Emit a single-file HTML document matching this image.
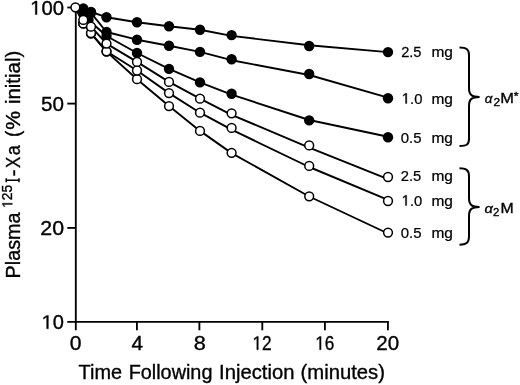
<!DOCTYPE html>
<html><head><meta charset="utf-8"><style>
html,body{margin:0;padding:0;background:#fff;}
svg{display:block;will-change:transform;}
text{font-family:"Liberation Sans",sans-serif;fill:#000;stroke:#000;stroke-width:0.35px;}
.g1{stroke:#000;stroke-width:0.35px;}
.lg{stroke-width:0.25px;}
</style></head><body>
<svg width="520" height="385" viewBox="0 0 520 385">
<g stroke="#000" stroke-width="1.85" fill="none">
<path d="M75.8,6.7 V330.3"/>
<path d="M67.3,321.85 H388.9"/>
<path d="M67.3,7.5 H75.8"/>
<path d="M67.3,103.6 H75.8"/>
<path d="M67.3,227.9 H75.8"/>
<path d="M136.9,321.85 V330.3"/>
<path d="M199.4,321.85 V330.3"/>
<path d="M262.3,321.85 V330.3"/>
<path d="M324.9,321.85 V330.3"/>
<path d="M387.9,321.85 V330.3"/>
</g>
<g stroke="#000" stroke-width="1.9" fill="none" stroke-linejoin="round">
<polyline points="75.4,7.3 83.3,8.5 91.0,12.0 106.5,17.2 137.0,22.2 169.0,26.2 200.0,29.7 231.6,35.9 309.2,45.2 388.0,52.1"/>
<polyline points="75.4,7.3 83.3,9.8 91.0,12.8 106.5,32.0 137.0,39.7 169.0,45.8 200.0,51.9 231.6,60.2 309.2,75.0 388.0,97.6"/>
<polyline points="75.4,7.3 83.3,11.5 88.5,20.0 106.5,36.0 137.0,53.0 169.0,68.9 200.0,82.4 231.6,94.6 309.2,120.0 388.0,136.7"/>
<polyline points="75.4,7.3 83.3,19.9 91.0,26.7 106.5,43.6 137.0,61.9 169.0,81.9 200.0,98.7 231.6,114.8 309.2,147.7 388.0,179.1"/>
<polyline points="75.4,7.3 83.3,23.4 91.0,33.1 106.5,51.3 137.0,70.5 169.0,93.1 200.0,112.7 231.6,129.7 309.2,167.0 388.0,199.9"/>
<polyline points="75.4,7.3 83.3,23.7 91.0,33.5 106.5,51.6 137.0,79.2 169.0,106.1 200.0,130.9 231.6,153.1 309.2,196.5 388.0,233.5"/>
</g>
<g fill="#000">
<circle cx="83.3" cy="11.5" r="5.2"/>
<circle cx="88.5" cy="20.0" r="5.2"/>
<circle cx="106.5" cy="36.0" r="5.2"/>
<circle cx="137.0" cy="53.0" r="5.2"/>
<circle cx="169.0" cy="68.9" r="5.2"/>
<circle cx="200.0" cy="82.4" r="5.2"/>
<circle cx="231.6" cy="93.8" r="5.2"/>
<circle cx="309.2" cy="120.4" r="5.2"/>
<circle cx="388.0" cy="137.3" r="5.2"/>
<circle cx="83.3" cy="9.8" r="5.2"/>
<circle cx="91.0" cy="12.8" r="5.2"/>
<circle cx="106.5" cy="32.0" r="5.2"/>
<circle cx="137.0" cy="39.7" r="5.2"/>
<circle cx="169.0" cy="45.8" r="5.2"/>
<circle cx="200.0" cy="51.9" r="5.2"/>
<circle cx="231.6" cy="59.2" r="5.2"/>
<circle cx="309.2" cy="74.0" r="5.2"/>
<circle cx="388.0" cy="98.2" r="5.2"/>
<circle cx="83.3" cy="8.5" r="5.2"/>
<circle cx="91.0" cy="12.0" r="5.2"/>
<circle cx="106.5" cy="17.2" r="5.2"/>
<circle cx="137.0" cy="22.2" r="5.2"/>
<circle cx="169.0" cy="26.2" r="5.2"/>
<circle cx="200.0" cy="29.7" r="5.2"/>
<circle cx="231.6" cy="35.1" r="5.2"/>
<circle cx="309.2" cy="46.0" r="5.2"/>
<circle cx="388.0" cy="52.1" r="5.2"/>
</g>
<g fill="#fff" stroke="#000" stroke-width="1.5">
<circle cx="83.3" cy="23.7" r="4.4"/>
<circle cx="91.0" cy="33.5" r="4.4"/>
<circle cx="106.5" cy="51.6" r="4.4"/>
<circle cx="137.0" cy="79.2" r="4.4"/>
<circle cx="169.0" cy="106.1" r="4.4"/>
<circle cx="200.0" cy="130.9" r="4.4"/>
<circle cx="231.6" cy="152.8" r="4.4"/>
<circle cx="309.2" cy="196.3" r="4.4"/>
<circle cx="388.0" cy="232.6" r="4.4"/>
<circle cx="83.3" cy="23.4" r="4.4"/>
<circle cx="91.0" cy="33.1" r="4.4"/>
<circle cx="106.5" cy="51.3" r="4.4"/>
<circle cx="137.0" cy="70.5" r="4.4"/>
<circle cx="169.0" cy="93.1" r="4.4"/>
<circle cx="200.0" cy="112.7" r="4.4"/>
<circle cx="231.6" cy="127.9" r="4.4"/>
<circle cx="309.2" cy="165.9" r="4.4"/>
<circle cx="388.0" cy="201.0" r="4.4"/>
<circle cx="83.3" cy="19.9" r="4.4"/>
<circle cx="91.0" cy="26.7" r="4.4"/>
<circle cx="106.5" cy="43.6" r="4.4"/>
<circle cx="137.0" cy="61.9" r="4.4"/>
<circle cx="169.0" cy="81.9" r="4.4"/>
<circle cx="200.0" cy="98.7" r="4.4"/>
<circle cx="231.6" cy="113.3" r="4.4"/>
<circle cx="309.2" cy="145.4" r="4.4"/>
<circle cx="388.0" cy="177.0" r="4.4"/>
<circle cx="75.4" cy="7.3" r="4.4"/>
</g>
<text transform="translate(30.15,14.50) scale(1.0404,1)" font-size="19.5"> 00</text>
<path transform="translate(30.15,14.50) scale(0.00991,-0.00952)" d="M515,0 L515,1237 L197,1010 L197,1180 L530,1409 L696,1409 L696,0 Z" class="g1" vector-effect="non-scaling-stroke"/>
<text transform="translate(40.92,110.50) scale(1.0599,1)" font-size="19.5">50</text>
<text transform="translate(40.28,234.80) scale(1.0953,1)" font-size="19.5">20</text>
<text transform="translate(41.57,328.80) scale(1.0288,1)" font-size="19.5"> 0</text>
<path transform="translate(41.57,328.80) scale(0.00980,-0.00952)" d="M515,0 L515,1237 L197,1010 L197,1180 L530,1409 L696,1409 L696,0 Z" class="g1" vector-effect="non-scaling-stroke"/>
<text transform="translate(69.68,349.80) scale(1.0836,1)" font-size="19.5">0</text>
<text transform="translate(131.42,349.60) scale(1.0684,1)" font-size="19.5">4</text>
<text transform="translate(193.87,349.80) scale(1.1129,1)" font-size="19.5">8</text>
<text transform="translate(252.44,349.80) scale(0.8866,1)" font-size="19.5"> 2</text>
<path transform="translate(252.44,349.80) scale(0.00844,-0.00952)" d="M515,0 L515,1237 L197,1010 L197,1180 L530,1409 L696,1409 L696,0 Z" class="g1" vector-effect="non-scaling-stroke"/>
<text transform="translate(315.25,349.80) scale(0.8811,1)" font-size="19.5"> 6</text>
<path transform="translate(315.25,349.80) scale(0.00839,-0.00952)" d="M515,0 L515,1237 L197,1010 L197,1180 L530,1409 L696,1409 L696,0 Z" class="g1" vector-effect="non-scaling-stroke"/>
<text transform="translate(376.27,350.00) scale(1.0527,1)" font-size="19.5">20</text>
<text transform="translate(78.56,379.40) scale(0.9762,1)" font-size="20.4">Time</text>
<text transform="translate(128.67,379.40) scale(0.9725,1)" font-size="20.4">Following</text>
<text transform="translate(219.04,379.40) scale(0.9922,1)" font-size="20.4">Injection</text>
<text transform="translate(300.54,379.40) scale(0.9940,1)" font-size="20.4">(minutes)</text>
<text transform="translate(401.17,57.30) scale(0.9890,1)" font-size="14.8" class="lg">2.5</text>
<text transform="translate(431.48,57.30) scale(1.0465,1)" font-size="14.8" class="lg">mg</text>
<text transform="translate(401.78,103.50) scale(1.0014,1)" font-size="14.8" class="lg"> .0</text>
<path transform="translate(401.78,103.50) scale(0.00724,-0.00723)" d="M515,0 L515,1237 L197,1010 L197,1180 L530,1409 L696,1409 L696,0 Z" class="g1" vector-effect="non-scaling-stroke"/>
<text transform="translate(431.48,103.50) scale(1.0465,1)" font-size="14.8" class="lg">mg</text>
<text transform="translate(400.72,142.60) scale(1.0117,1)" font-size="14.8" class="lg">0.5</text>
<text transform="translate(431.48,142.60) scale(1.0465,1)" font-size="14.8" class="lg">mg</text>
<text transform="translate(400.76,181.30) scale(0.9995,1)" font-size="14.8" class="lg">2.5</text>
<text transform="translate(431.48,181.30) scale(1.0465,1)" font-size="14.8" class="lg">mg</text>
<text transform="translate(401.68,205.50) scale(0.9960,1)" font-size="14.8" class="lg"> .0</text>
<path transform="translate(401.68,205.50) scale(0.00720,-0.00723)" d="M515,0 L515,1237 L197,1010 L197,1180 L530,1409 L696,1409 L696,0 Z" class="g1" vector-effect="non-scaling-stroke"/>
<text transform="translate(431.48,205.50) scale(1.0465,1)" font-size="14.8" class="lg">mg</text>
<text transform="translate(400.72,237.60) scale(1.0117,1)" font-size="14.8" class="lg">0.5</text>
<text transform="translate(431.48,237.60) scale(1.0465,1)" font-size="14.8" class="lg">mg</text>
<text transform="translate(484.84,102.50) scale(1.0648,1)" font-size="12.6" font-style="italic">α</text>
<text transform="translate(493.51,105.90) scale(1.1278,1)" font-size="10.5">2</text>
<text transform="translate(500.35,102.60) scale(1.0962,1)" font-size="15.0">M</text>
<text transform="translate(513.80,99.60) scale(1.1412,1)" font-size="10.8">*</text>
<text transform="translate(484.40,212.50) scale(1.1642,1)" font-size="12.6" font-style="italic">α</text>
<text transform="translate(493.03,216.00) scale(1.0860,1)" font-size="10.5">2</text>
<text transform="translate(500.40,212.60) scale(1.0563,1)" font-size="15.0">M</text>
<g transform="translate(19.6,276.8) rotate(-90)">
<text transform="translate(-1.62,0.00) scale(0.9740,1)" font-size="20.3">Plasma</text>
<text transform="translate(68.87,-7.30) scale(0.9556,1)" font-size="14.5"> 25</text>
<path transform="translate(68.87,-7.30) scale(0.00677,-0.00708)" d="M515,0 L515,1237 L197,1010 L197,1180 L530,1409 L696,1409 L696,0 Z" class="g1" vector-effect="non-scaling-stroke"/>
<path d="M94.6,-13.4 H98.6 M94.6,-0.6 H98.6 M96.6,-13.4 V-0.6" stroke="#000" stroke-width="1.5" fill="none"/>
<text transform="translate(100.18,0.00) scale(1.0254,1)" font-size="20.3">-</text>
<text transform="translate(108.91,0.00) scale(0.8302,1)" font-size="20.3">X</text>
<text transform="translate(121.64,0.00) scale(0.8913,1)" font-size="20.3">a</text>
<text transform="translate(139.73,0.00) scale(0.9295,1)" font-size="20.3">(</text>
<text transform="translate(146.94,0.00) scale(1.0418,1)" font-size="20.3">%</text>
<text transform="translate(172.73,0.00) scale(1.0059,1)" font-size="20.3">initial)</text>
</g>
<g stroke="#000" stroke-width="2" fill="none">
<path d="M459.5,47.5 C466,47.5 469,49 469,55 V88 C469,95 472,97 479.6,97 C472,97 469,99 469,106 V139 C469,145 466,146 459.5,146"/>
<path d="M459.5,168.3 C466,168.3 469,170 469,176 V198 C469,205 472,207 479.6,207 C472,207 469,209 469,216 V236 C469,243 466,244.7 459.5,244.7"/>
</g>
</svg>
</body></html>
